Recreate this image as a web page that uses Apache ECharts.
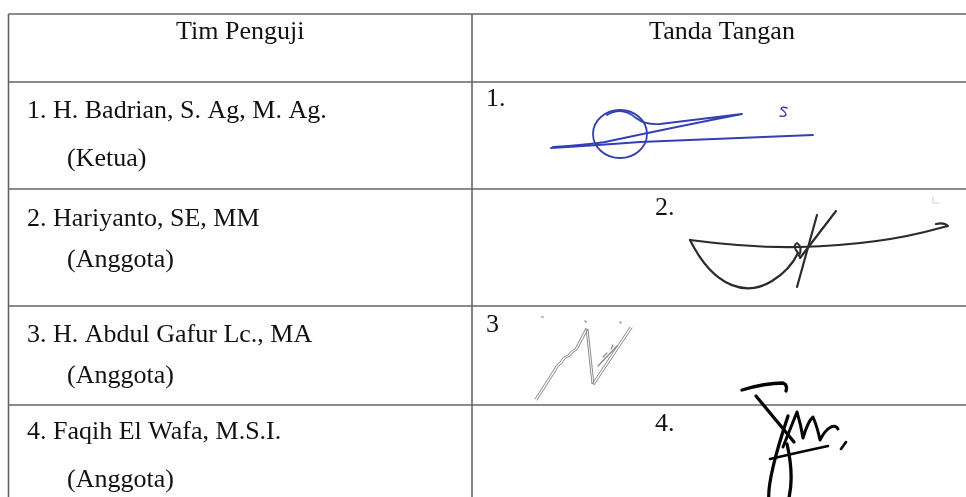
<!DOCTYPE html>
<html>
<head>
<meta charset="utf-8">
<script src="https://cdn.jsdelivr.net/npm/echarts@6/dist/echarts.min.js"></script>
<style>
html,body{margin:0;padding:0;background:#fff;}
#c{width:966px;height:497px;}
</style>
</head>
<body>
<div id="c"></div>
<script>
// ---- data ----
var headers = ['Tim Penguji', 'Tanda Tangan'];
var names = ['1. H. Badrian, S. Ag, M. Ag.', '2. Hariyanto, SE, MM', '3. H. Abdul Gafur Lc., MA', '4. Faqih El Wafa, M.S.I.'];
var roles = ['(Ketua)', '(Anggota)', '(Anggota)', '(Anggota)'];
var signNumbers = ['1.', '2.', '3', '4.'];

// ---- layout (pixels) ----
var tableLeft = 8.5, tableRight = 966, colSplit = 472, tableTop = 14, tableBottom = 497;
var rowLines = [82, 189, 306, 405];
var headerY = 32.5;
var nameY = [111, 219, 335, 432];
var roleY = [159, 260, 376, 480];
var nameX = 27, roleX = 67;
var signNumPos = [[486, 99], [655, 208], [486, 325], [655, 424]];

var FONT = '"Liberation Serif", "Times New Roman", serif';
var LINE = '#646464';
var els = [];

function hline(y) {
  els.push({type: 'line', shape: {x1: tableLeft, y1: y, x2: tableRight, y2: y}, style: {stroke: LINE, lineWidth: 1.6}, silent: true});
}
function vline(x) {
  els.push({type: 'line', shape: {x1: x, y1: tableTop, x2: x, y2: tableBottom}, style: {stroke: LINE, lineWidth: 1.6}, silent: true});
}
function txt(s, x, y, align) {
  els.push({type: 'text', x: x, y: y, style: {text: s, font: '26px ' + FONT, fill: '#111111', align: align || 'left', verticalAlign: 'middle'}, silent: true});
}

hline(tableTop);
rowLines.forEach(hline);
vline(tableLeft);
vline(colSplit);

txt(headers[0], (tableLeft + colSplit) / 2, headerY, 'center');
txt(headers[1], 722, headerY, 'center');

names.forEach(function (n, i) {
  txt(n, nameX, nameY[i]);
  txt(roles[i], roleX, roleY[i]);
  txt(signNumbers[i], signNumPos[i][0], signNumPos[i][1]);
});

// ---- signatures (free-hand decoration, drawn as paths) ----
var strokes = [];
function path(d, stroke, w, dx, dy) {
  strokes.push({d: d, stroke: stroke, w: w, dx: dx || 0, dy: dy || 0});
}
var blue = '#3340b4';
path('M551,148 Q600,145 640,142 Q730,138 813,135', blue, 1.9);
path('M553,147 Q585,145 605,142 Q680,126 742,114 Q700,119 660,124 Q645,125 636,118 Q622,106 607,115', blue, 1.8);
path('M593,134 A27,24 0 1,0 647,134 A27,24 0 1,0 593,134', blue, 1.8);
path('M787,108 Q782,106 781,109 Q786,112 786,115 Q784,117 780,116', blue, 1.4);

var dark = '#2b2b2b';
path('M690,240 Q750,248 800,247 Q880,245 940,228 L948,226 Q944,222 936,224', dark, 2.2);
path('M690,240 C715,290 748,296 772,281 Q790,270 798,253', dark, 2.2);
path('M798,253 Q792,246 797,243 Q803,247 799,256', dark, 2);
path('M797,287 L817,215', dark, 2.2);
path('M800,258 L836,211', dark, 2.2);
path('M933,197 L933,203 L939,203', '#cfcfcf', 1);

var gray = '#8a8a8a';
var sig3 = 'M535,399 L553,371 Q556,364 560,362 Q563,356 568,355 Q571,350 575,349 L586,328 L592,384 L630,327';
path(sig3, gray, 1);
path(sig3, gray, 1, 2, 1);
path('M598,366 L617,346', gray, 1.3);
path('M603,357 L607,353 M611,349 L613,345', gray, 1.2);
path('M585,321 L586,322 M620,322 L621,323 M542,317 L543,317', gray, 1.5);

var black = '#050505';
path('M742,390 Q765,383 783,383 Q788,385 786,391', black, 3.3);
path('M756,396 L794,442', black, 3.3);
path('M788,416 C775,455 765,492 770,505', black, 3.3);
path('M787,444 C793,470 792,490 787,505', black, 3.3);
path('M783,447 L797,412 Q801,425 803,438 Q808,421 813,417 Q817,426 820,440 Q825,430 831,427 Q836,425 838,429', black, 3);
path('M770,459 Q800,452 828,446', black, 2.6);
path('M846,442 L841,449', black, 2.6);

var chart = echarts.init(document.getElementById('c'), null, {renderer: 'canvas'});
chart.setOption({
  backgroundColor: '#ffffff',
  animation: false,
  graphic: {elements: els},
  series: [{
    type: 'custom',
    coordinateSystem: 'none',
    silent: true,
    data: [0],
    renderItem: function () {
      return {
        type: 'group',
        children: strokes.map(function (s) {
          return {
            type: 'path',
            x: s.dx, y: s.dy,
            shape: {pathData: s.d},
            style: {stroke: s.stroke, lineWidth: s.w, fill: null, lineCap: 'round', lineJoin: 'round'}
          };
        })
      };
    }
  }]
});
</script>
</body>
</html>
